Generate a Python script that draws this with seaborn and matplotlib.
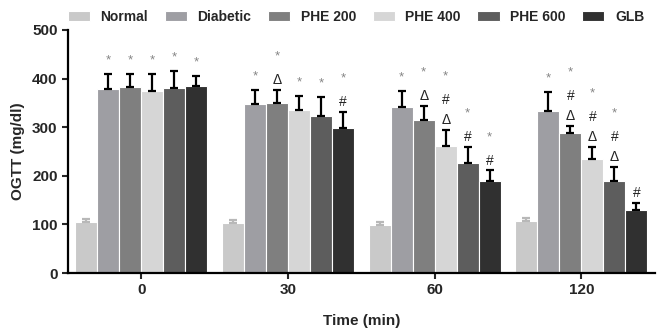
import matplotlib
matplotlib.use("Agg")
import matplotlib.pyplot as plt
import seaborn as sns
import pandas as pd

times = ["0", "30", "60", "120"]
groups = ["Normal", "Diabetic", "PHE 200", "PHE 400", "PHE 600", "GLB"]
normal = [104, 102, 98, 108]
diabetic = [379, 348, 342, 334]
phe200 = [383, 350, 314, 289]
phe400 = [375, 336, 262, 235]
phe600 = [381, 324, 227, 189]
glb = [385, 299, 190, 129]
normal_sd = [8, 8, 8, 5]
diabetic_sd = [31, 29, 33, 39]
phe200_sd = [27, 27, 30, 14]
phe400_sd = [35, 29, 33, 25]
phe600_sd = [35, 39, 33, 30]
glb_sd = [21, 33, 21, 16]
# significance marks, bottom to top
marks = {
    "Normal": [[], [], [], []],
    "Diabetic": [["*"], ["*"], ["*"], ["*"]],
    "PHE 200": [["*"], ["Δ", "*"], ["Δ", "*"], ["Δ", "#", "*"]],
    "PHE 400": [["*"], ["*"], ["Δ", "#", "*"], ["Δ", "#", "*"]],
    "PHE 600": [["*"], ["*"], ["#", "*"], ["Δ", "#", "*"]],
    "GLB": [["*"], ["#", "*"], ["#", "*"], ["#"]],
}
colors = ["#c9c9c9", "#9e9ea3", "#7f7f7f", "#d6d6d6", "#5d5d5d", "#303030"]

means = [normal, diabetic, phe200, phe400, phe600, glb]
sds = [normal_sd, diabetic_sd, phe200_sd, phe400_sd, phe600_sd, glb_sd]
rows = []
for g, vals in zip(groups, means):
    for t, v in zip(times, vals):
        rows.append({"Time": t, "Group": g, "OGTT": v})
df = pd.DataFrame(rows)

sns.set_style("ticks")
plt.rcParams["font.family"] = ["Liberation Sans", "DejaVu Sans"]
plt.rcParams["font.weight"] = "bold"

fig = plt.figure(figsize=(6.6, 3.29), dpi=100)
ax = fig.add_axes([0.103, 0.170, 0.889, 0.739])
sns.barplot(data=df, x="Time", y="OGTT", hue="Group", order=times,
            hue_order=groups, palette=colors, errorbar=None, width=0.9,
            edgecolor="white", linewidth=0.8, ax=ax, saturation=1)

bar_conts = list(ax.containers)
for gi, cont in enumerate(bar_conts):
    g = groups[gi]
    for ti, p in enumerate(cont.patches):
        xc = p.get_x() + p.get_width() / 2
        h = p.get_height()
        sd = sds[gi][ti]
        ecol = "#b8b8b8" if g == "Normal" else "black"
        ax.errorbar([xc], [h], yerr=[[0], [sd]], fmt="none", ecolor=ecol,
                    elinewidth=1.6, capsize=2.7, capthick=1.6, zorder=3)
        for k, m in enumerate(marks[g][ti]):
            if m == "*":
                col, fs, dy = "#858585", 9.5, 3
            else:
                col, fs, dy = "#222222", 10, 0
            ax.annotate(m, xy=(xc, h + sd), xytext=(0, 2 + k * 14.5 + dy),
                        textcoords="offset points", ha="center", va="bottom",
                        fontsize=fs, color=col, fontweight="normal")

ax.set_ylim(0, 500)
ax.set_xlim(-0.5, 3.5)
ax.set_yticks([0, 100, 200, 300, 400, 500])
ax.set_ylabel("OGTT (mg/dl)", fontsize=11, fontweight="bold", labelpad=5)
ax.set_xlabel("Time (min)", fontsize=11, fontweight="bold", labelpad=12)
ax.tick_params(axis="both", labelsize=11, width=1.5, length=4, direction="out")
for lab in ax.get_xticklabels() + ax.get_yticklabels():
    lab.set_fontweight("bold")
sns.despine(ax=ax)
for s in ["left", "bottom"]:
    ax.spines[s].set_linewidth(1.6)
    ax.spines[s].set_color("black")

handles, labels = ax.get_legend_handles_labels()
if ax.get_legend() is not None:
    ax.get_legend().remove()
fig.legend(handles, labels, loc="center", bbox_to_anchor=(356 / 660, 1 - 17 / 329),
           ncol=6, frameon=False, fontsize=10, handlelength=1.6,
           handleheight=0.7, columnspacing=1.2, handletextpad=0.75)

fig.savefig("out.png", dpi=100)
